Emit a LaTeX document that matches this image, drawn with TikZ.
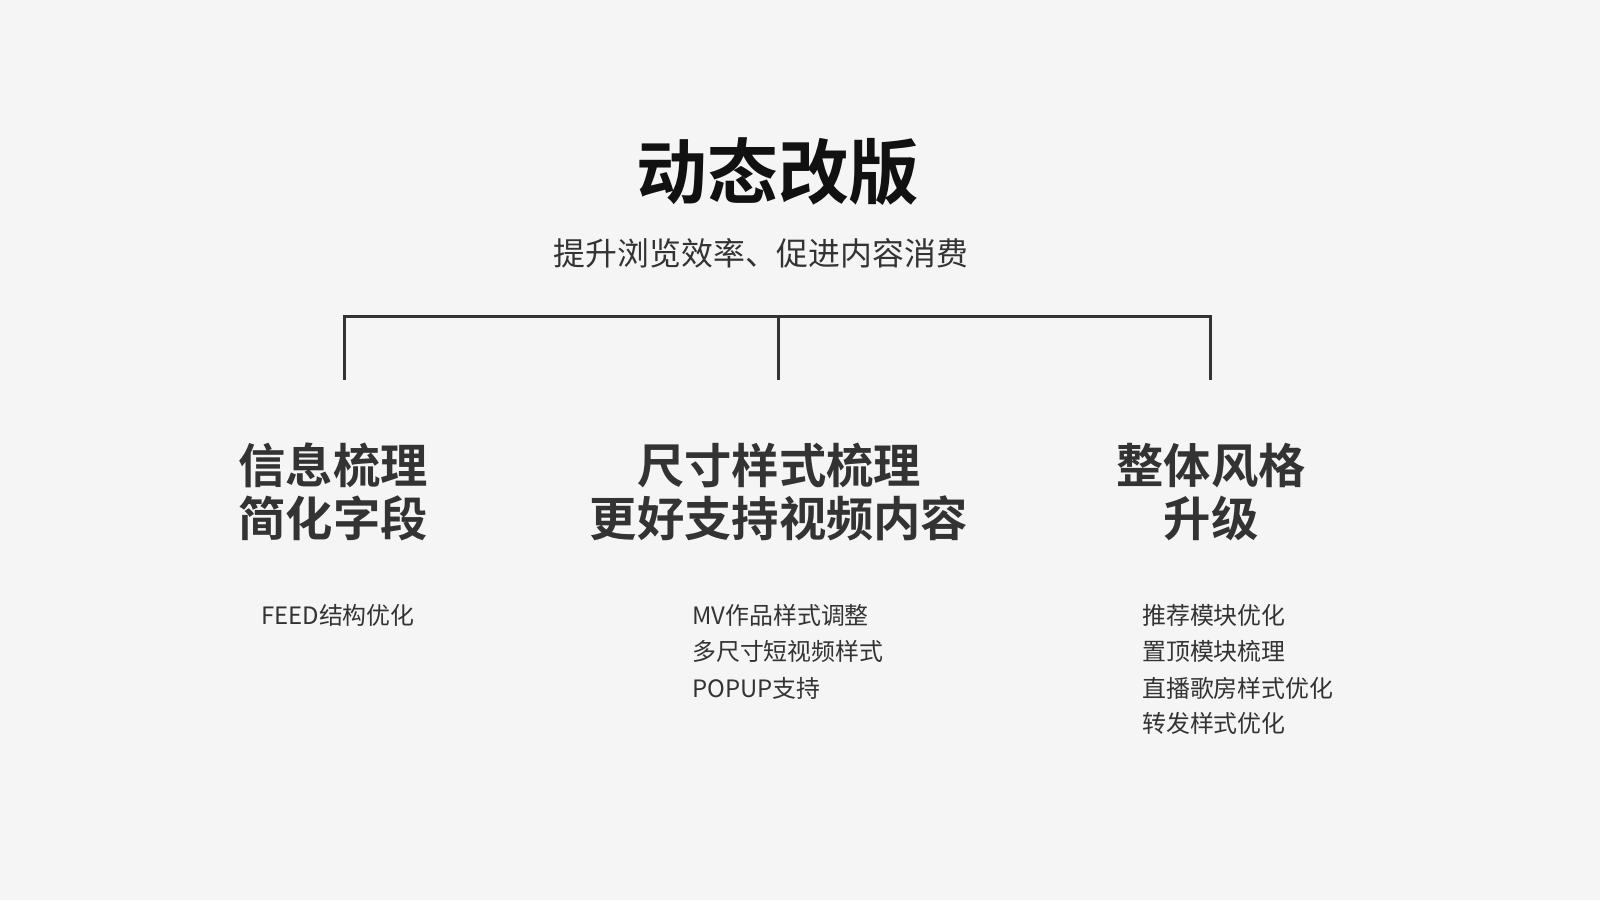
\documentclass[tikz,border=0pt]{standalone}
\usepackage{fontspec}
\newfontfamily\cjk{Noto Sans CJK SC}
\newfontfamily\cjkbold{Noto Sans CJK SC Bold}
\definecolor{bg}{HTML}{F5F5F5}
\definecolor{ink}{HTML}{333333}
\definecolor{titleink}{HTML}{111111}
\tikzset{
  titletext/.style={inner sep=0pt, text=titleink, font=\cjkbold\fontsize{71}{80}\selectfont},
  subtext/.style={inner sep=0pt, text=ink, font=\cjk\fontsize{32}{36}\selectfont},
  headtext/.style={inner sep=0pt, text=ink, align=center, font=\cjkbold\fontsize{47.5}{53}\selectfont},
  itemtext/.style={inner sep=0pt, anchor=west, text=ink, text height=0.88em, text depth=0.12em, font=\cjk\fontsize{24}{36}\selectfont},
  bar/.style={draw=ink, line width=3bp, line join=miter, line cap=rect}
}
\begin{document}
\begin{tikzpicture}[x=1bp,y=-1bp]
\fill[bg] (0,0) rectangle (1600,900);
\useasboundingbox (0,0) rectangle (1600,900);

\node[titletext] (title) at (778,172) {动态改版};
\node[subtext] (sub) at (761,253) {提升浏览效率、促进内容消费};

\coordinate (tl) at (344,316);
\coordinate (tm) at (778,316);
\coordinate (tr) at (1210,316);
\coordinate (bl) at (344,378);
\coordinate (bm) at (778,378);
\coordinate (br) at (1210,378);
\draw[bar] (bl) -- (tl) -- (tr) -- (br);
\draw[bar] (tm) -- (bm);

\node[headtext] (h1) at (333,492) {信息梳理\\简化字段};
\node[headtext] (h2) at (779,492) {尺寸样式梳理\\更好支持视频内容};
\node[headtext] (h3) at (1211,492) {整体风格\\升级};

\node[itemtext] (l1) at (261,621) {FEED结构优化};

\node[itemtext] (m1) at (692,621) {MV作品样式调整};
\node[itemtext] (m2) at (692,657) {多尺寸短视频样式};
\node[itemtext] (m3) at (692,694) {POPUP支持};

\node[itemtext] (r1) at (1142,621) {推荐模块优化};
\node[itemtext] (r2) at (1142,657) {置顶模块梳理};
\node[itemtext] (r3) at (1142,694) {直播歌房样式优化};
\node[itemtext] (r4) at (1142,729) {转发样式优化};
\end{tikzpicture}
\end{document}
